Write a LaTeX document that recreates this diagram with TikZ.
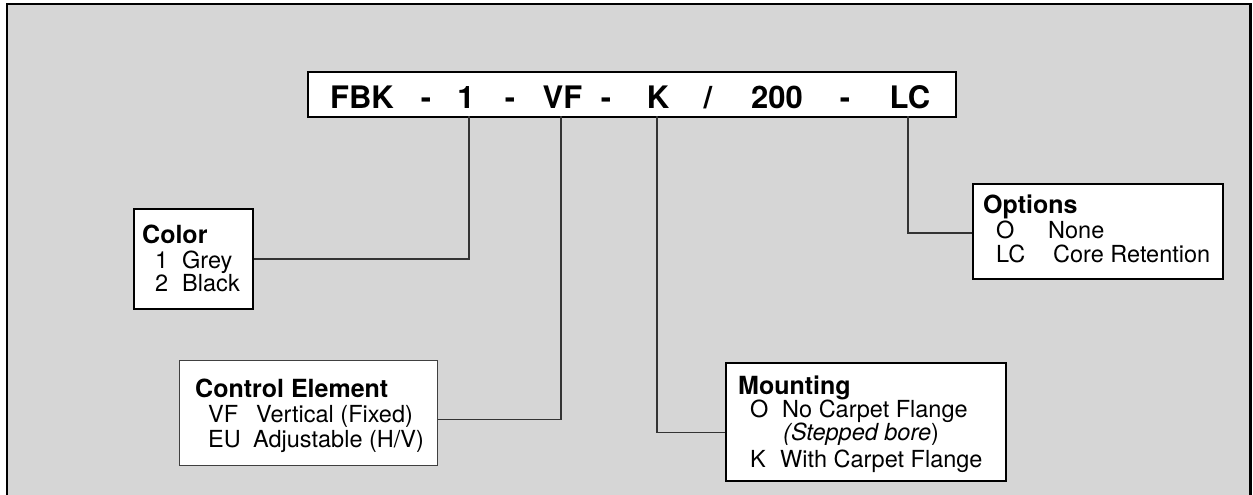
\documentclass[tikz,border=0pt]{standalone}
\usepackage{fontspec}
\setmainfont{TeX Gyre Heros}
\definecolor{panel}{HTML}{D6D6D6}
\definecolor{wire}{HTML}{333333}
\definecolor{softedge}{HTML}{404040}
\tikzset{
  box/.style={draw=black, line width=2pt, fill=white, inner sep=0pt, anchor=north west},
  code/.style={inner sep=0pt, anchor=base, font=\fontsize{31}{34}\selectfont\bfseries},
  head/.style={inner sep=0pt, anchor=base west, font=\fontsize{25}{28}\selectfont\bfseries},
  item/.style={inner sep=0pt, anchor=base west, font=\fontsize{23.5}{26}\selectfont},
  wire/.style={draw=wire, line width=1.1pt},
}
\begin{document}
\begin{tikzpicture}[x=1pt, y=-1pt]
\useasboundingbox (0,0) rectangle (1253,495);
% panel
\begin{scope}
\clip (0,0) rectangle (1253,495);
\draw[line width=2.5pt, fill=panel] (7,4) rectangle (1250.5,505);
\end{scope}

% part number strip
\node[box, minimum width=648pt, minimum height=45pt] (codebox) at (307,71) {};
\node[code] (cFBK) at (362,108) {FBK};
\node[code] (d1) at (426,108) {-};
\node[code] (cOne) at (466,108) {1};
\node[code] (d2) at (510,108) {-};
\node[code] (cVF) at (562.5,108) {VF};
\node[code] (d3) at (606,108) {-};
\node[code] (cK) at (658,108) {K};
\node[code] (sl) at (708,108) {/};
\node[code] (c200) at (777,108) {200};
\node[code] (d4) at (845,108) {-};
\node[code] (cLC) at (910,108) {LC};

% tap points on the bottom edge of the strip
\coordinate (tOne) at (469,116);
\coordinate (tVF) at (561,116);
\coordinate (tK) at (657,116);
\coordinate (tLC) at (908,116);

% Color
\node[box, minimum width=119pt, minimum height=100pt] (color) at (133,208) {};
\node[head] (colorH) at (142,243) {Color};
\node[item] (colorA) at (155,268) {1};
\node[item] (colorAt) at (182,268) {Grey};
\node[item] (colorB) at (155,291) {2};
\node[item] (colorBt) at (182,291) {Black};

% Control Element
\node[box, draw=softedge, line width=1.4pt, minimum width=258pt, minimum height=105pt] (ctrl) at (179,360) {};
\node[head] (ctrlH) at (195,397) {Control Element};
\node[item] (ctrlA) at (208,422) {VF};
\node[item] (ctrlAt) at (256,422) {Vertical (Fixed)};
\node[item] (ctrlB) at (208,447) {EU};
\node[item] (ctrlBt) at (253,447) {Adjustable (H/V)};

% Mounting
\node[box, line width=2.4pt, minimum width=280pt, minimum height=118pt] (mount) at (725,362) {};
\node[head] (mountH) at (738,394) {Mounting};
\node[item] (mountA) at (750,417) {O};
\node[item] (mountAt) at (782,417) {No Carpet Flange};
\node[item] (mountN) at (783,440) {\itshape(Stepped bore\upshape)};
\node[item] (mountB) at (750,467) {K};
\node[item] (mountBt) at (780,467) {With Carpet Flange};

% Options
\node[box, minimum width=250pt, minimum height=95pt] (opts) at (972,183) {};
\node[head] (optsH) at (983,213) {Options};
\node[item] (optsA) at (996,238) {O};
\node[item] (optsAt) at (1048,238) {None};
\node[item] (optsB) at (996,262) {LC};
\node[item] (optsBt) at (1053,262) {Core Retention};

% leaders
\draw[wire] (tOne) |- (color.east);
\draw[wire] (tVF) |- ([yshift=-6.5pt]ctrl.east);
\draw[wire] (tK) |- ([yshift=-10pt]mount.west);
\draw[wire] (tLC) |- ([yshift=-1.5pt]opts.west);
\end{tikzpicture}
\end{document}
